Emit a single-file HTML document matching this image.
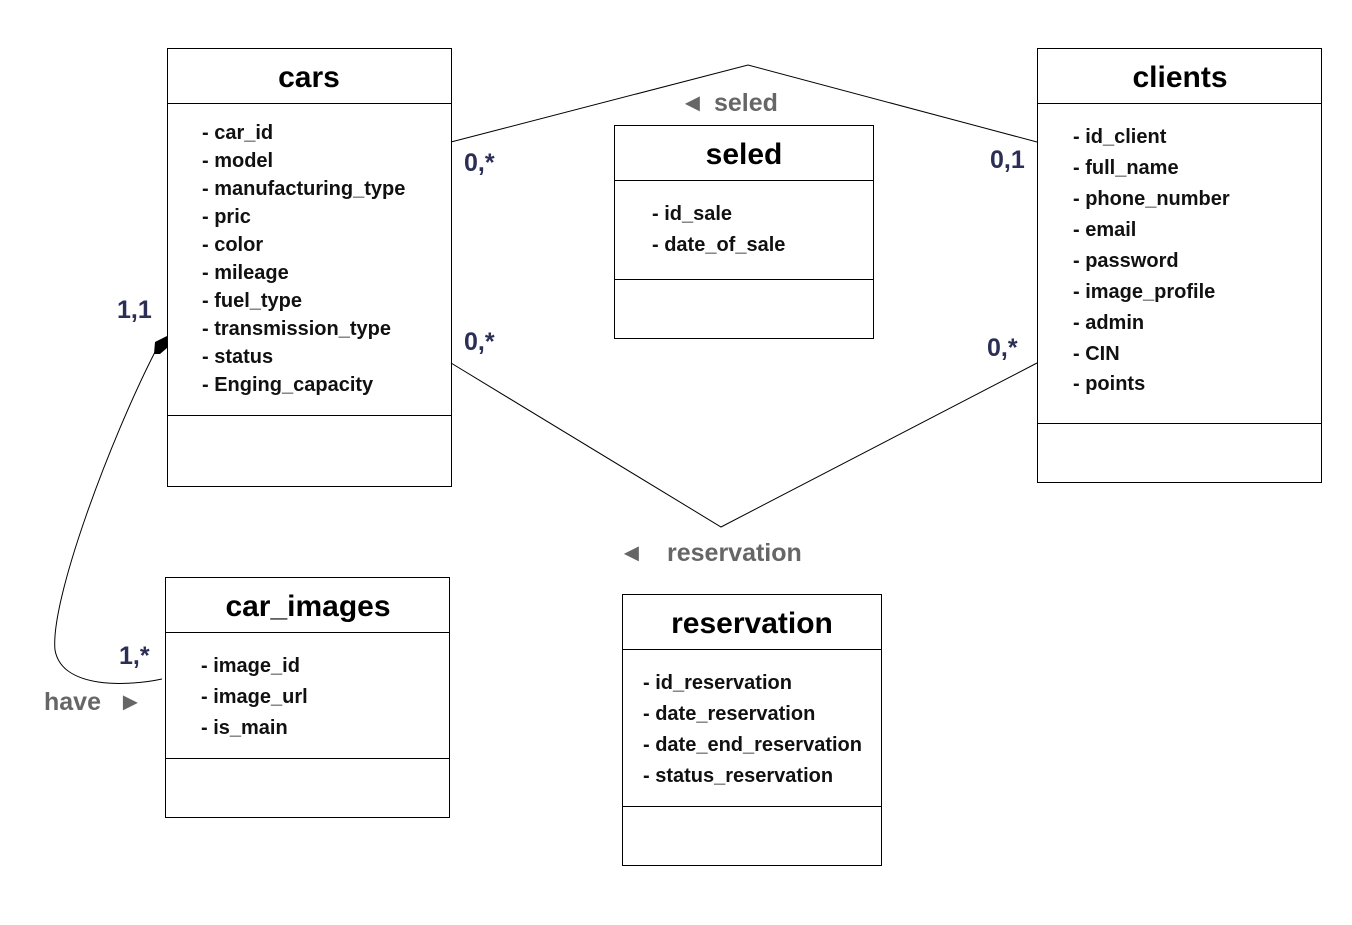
<!DOCTYPE html>
<html><head><meta charset="utf-8"><style>
body{margin:0;background:#fff;}
svg text{font-family:"Liberation Sans",sans-serif;}
.t{font-size:30px;font-weight:bold;fill:#000;text-anchor:middle}
.a{font-size:20px;font-weight:bold;fill:#111}
.m{font-size:25px;font-weight:bold;fill:#2b2f55}
.l{font-size:25px;font-weight:bold;fill:#666}
</style></head><body>
<svg width="1352" height="920" viewBox="0 0 1352 920" xmlns="http://www.w3.org/2000/svg">
<g fill="#fff" stroke="#000" stroke-width="1">
<rect x="167.5" y="48.5" width="284" height="438"/><line x1="167" y1="103.5" x2="451" y2="103.5"/><line x1="167" y1="415.5" x2="451" y2="415.5"/>
<rect x="614.5" y="125.5" width="259" height="213"/><line x1="614" y1="180.5" x2="873" y2="180.5"/><line x1="614" y1="279.5" x2="873" y2="279.5"/>
<rect x="1037.5" y="48.5" width="284" height="434"/><line x1="1037" y1="103.5" x2="1321" y2="103.5"/><line x1="1037" y1="423.5" x2="1321" y2="423.5"/>
<rect x="165.5" y="577.5" width="284" height="240"/><line x1="165" y1="632.5" x2="449" y2="632.5"/><line x1="165" y1="758.5" x2="449" y2="758.5"/>
<rect x="622.5" y="594.5" width="259" height="271"/><line x1="622" y1="649.5" x2="881" y2="649.5"/><line x1="622" y1="806.5" x2="881" y2="806.5"/>
</g>
<g fill="none" stroke="#000" stroke-width="1">
<polyline points="451,142 748,65 1037,142"/>
<polyline points="451,363 721,527 1037,363"/>
<path d="M155,352 C110,440 50,600 55,650 C62,690 130,686 162,679"/>
</g>
<polygon points="155,342 167,336 167,348 160,354 154,354" fill="#000"/>
<text class="t" x="309" y="87">cars</text>
<text class="t" x="744" y="164">seled</text>
<text class="t" x="1180" y="87">clients</text>
<text class="t" x="308" y="616">car_images</text>
<text class="t" x="752" y="633">reservation</text>
<g class="a">
<text x="202" y="139">- car_id</text><text x="202" y="167">- model</text><text x="202" y="195">- manufacturing_type</text><text x="202" y="223">- pric</text><text x="202" y="251">- color</text><text x="202" y="279">- mileage</text><text x="202" y="307">- fuel_type</text><text x="202" y="335">- transmission_type</text><text x="202" y="363">- status</text><text x="202" y="391">- Enging_capacity</text>
<text x="652" y="220">- id_sale</text><text x="652" y="251">- date_of_sale</text>
<text x="1073" y="143">- id_client</text><text x="1073" y="174">- full_name</text><text x="1073" y="205">- phone_number</text><text x="1073" y="236">- email</text><text x="1073" y="267">- password</text><text x="1073" y="298">- image_profile</text><text x="1073" y="329">- admin</text><text x="1073" y="360">- CIN</text><text x="1073" y="390">- points</text>
<text x="201" y="672">- image_id</text><text x="201" y="703">- image_url</text><text x="201" y="734">- is_main</text>
<text x="643" y="689">- id_reservation</text><text x="643" y="720">- date_reservation</text><text x="643" y="751">- date_end_reservation</text><text x="643" y="782">- status_reservation</text>
</g>
<g class="m">
<text x="464" y="171">0,*</text><text x="990" y="168">0,1</text>
<text x="464" y="350">0,*</text><text x="987" y="356">0,*</text>
<text x="117" y="318">1,1</text><text x="119" y="664">1,*</text>
</g>
<text class="l" x="680" y="111">◄</text><text class="l" x="714" y="111">seled</text>
<text class="l" x="619" y="561">◄</text><text class="l" x="667" y="561">reservation</text>
<text class="l" x="44" y="710">have</text><text class="l" x="118" y="710">►</text>
</svg>
</body></html>
